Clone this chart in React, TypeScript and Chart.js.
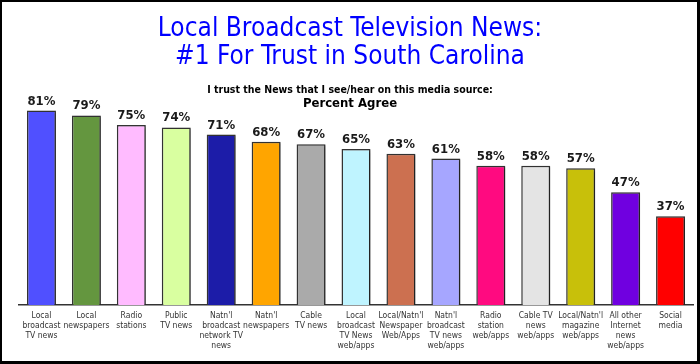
import React, { useEffect, useRef } from "react";
import { Chart, registerables } from "chart.js";

Chart.register(...registerables);

const categories: string[][] = [
  ["Local", "broadcast", "TV news"],
  ["Local", "newspapers"],
  ["Radio", "stations"],
  ["Public", "TV news"],
  ["Natn'l", "broadcast", "network TV", "news"],
  ["Natn'l", "newspapers"],
  ["Cable", "TV news"],
  ["Local", "broadcast", "TV News", "web/apps"],
  ["Local/Natn'l", "Newspaper", "Web/Apps"],
  ["Natn'l", "broadcast", "TV news", "web/apps"],
  ["Radio", "station", "web/apps"],
  ["Cable TV", "news", "web/apps"],
  ["Local/Natn'l", "magazine", "web/apps"],
  ["All other", "Internet", "news", "web/apps"],
  ["Social", "media"],
];

const values: number[] = [81, 79, 75, 74, 71, 68, 67, 65, 63, 61, 58, 58, 57, 47, 37];

const barColors: string[] = [
  "#5050FF",
  "#64963F",
  "#FFBBFF",
  "#D9FFA0",
  "#1C1CA8",
  "#FFA500",
  "#AAAAAA",
  "#BFF4FF",
  "#CC7050",
  "#A6A6FF",
  "#FF0A80",
  "#E4E4E4",
  "#C8C00A",
  "#7000E0",
  "#FF0000",
];

const titleLines: string[] = ["Local Broadcast Television News:", "#1 For Trust in South Carolina"];
const subtitleLine = "I trust the News that I see/hear on this media source:";
const subtitleLine2 = "Percent Agree";

const FONT = '"DejaVu Sans Condensed", "DejaVu Sans", sans-serif';

export default function App() {
  const ref = useRef<HTMLCanvasElement>(null);

  useEffect(() => {
    if (!ref.current) return;

    const decor = {
      id: "decor",
      beforeDatasetsDraw(chart: any) {
        const ctx = chart.ctx;
        ctx.save();
        ctx.shadowColor = "rgba(0,0,0,0.35)";
        ctx.shadowOffsetX = 2;
        ctx.shadowOffsetY = 1;
        ctx.shadowBlur = 2;
      },
      afterDatasetsDraw(chart: any) {
        const ctx = chart.ctx;
        ctx.restore();
        ctx.save();
        ctx.fillStyle = "#1a1a1a";
        ctx.font = `bold 13px ${FONT}`;
        ctx.textAlign = "center";
        ctx.textBaseline = "alphabetic";
        const meta = chart.getDatasetMeta(0);
        meta.data.forEach((bar: any, i: number) => {
          ctx.fillText(values[i] + "%", bar.x, bar.y - 6);
        });
        ctx.restore();
      },
      afterDraw(chart: any) {
        const ctx = chart.ctx;
        const cx = 348;
        ctx.save();
        ctx.textAlign = "center";
        ctx.textBaseline = "alphabetic";
        ctx.fillStyle = "#0000FF";
        ctx.font = `26px ${FONT}`;
        ctx.fillText(titleLines[0], cx, 34);
        ctx.fillText(titleLines[1], cx, 62);
        ctx.fillStyle = "#000";
        ctx.font = `bold 10.5px ${FONT}`;
        ctx.fillText(subtitleLine, cx, 91);
        ctx.font = `bold 13px ${FONT}`;
        ctx.fillText(subtitleLine2, cx, 105);
        ctx.restore();
      },
    };

    const chart = new Chart(ref.current, {
      type: "bar",
      data: {
        labels: categories,
        datasets: [
          {
            data: values,
            backgroundColor: barColors,
            borderColor: "#333333",
            borderWidth: 1.5,
            categoryPercentage: 1,
            barPercentage: 0.645,
          },
        ],
      },
      options: {
        responsive: false,
        animation: false,
        layout: { padding: { top: 63, left: 17, right: 4, bottom: 4 } },
        plugins: {
          legend: { display: false },
          tooltip: { enabled: false },
          title: { display: false },
        },
        scales: {
          x: {
            grid: { display: false, drawTicks: false },
            border: { display: true, color: "#333333", width: 1.5 },
            ticks: {
              autoSkip: false,
              maxRotation: 0,
              minRotation: 0,
              padding: 6,
              color: "#333333",
              font: { family: FONT, size: 8.5, lineHeight: "10px" },
            },
          },
          y: {
            display: false,
            min: 0,
            max: 100,
          },
        },
      },
      plugins: [decor],
    });

    return () => chart.destroy();
  }, []);

  return (
    <div
      style={{
        position: "absolute",
        left: 0,
        top: 0,
        width: 700,
        height: 364,
        boxSizing: "border-box",
        borderStyle: "solid",
        borderColor: "#000",
        borderWidth: "2px 3px 3px 2px",
        background: "#fff",
      }}
    >
      <canvas ref={ref} width={695} height={359} style={{ display: "block", width: 695, height: 359 }} />
    </div>
  );
}
